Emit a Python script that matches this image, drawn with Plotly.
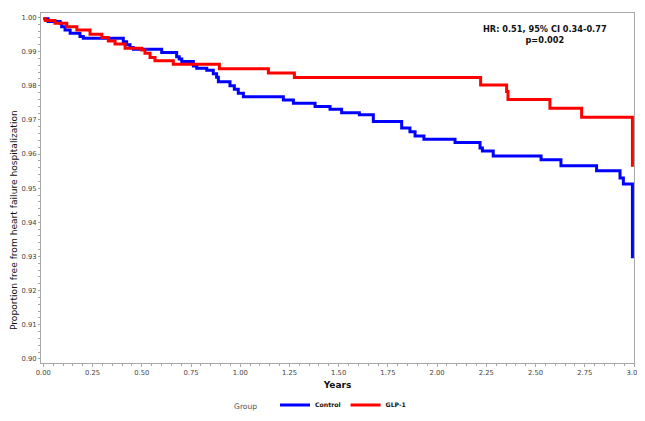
import plotly.graph_objects as go

# Control (blue) Kaplan-Meier steps
control_t = [0.0, 0.024, 0.085, 0.093, 0.110, 0.136, 0.186, 0.203, 0.406, 0.423, 0.440, 0.457,
             0.601, 0.677, 0.690, 0.703, 0.762, 0.779, 0.830, 0.863, 0.880, 0.889, 0.948, 0.970,
             0.990, 1.016, 1.219, 1.270, 1.380, 1.456, 1.515, 1.605, 1.676, 1.820, 1.862, 1.888,
             1.933, 2.091, 2.218, 2.230, 2.285, 2.528, 2.629, 2.810, 2.929, 2.946, 2.992]
control_s = [0.9996, 0.9988, 0.9983, 0.9973, 0.9963, 0.9954, 0.9944, 0.9939, 0.9929, 0.9920, 0.9912, 0.9907,
             0.9897, 0.9885, 0.9878, 0.9871, 0.9858, 0.9851, 0.9845, 0.9835, 0.9825, 0.9812, 0.9800, 0.9790,
             0.9778, 0.9768, 0.9758, 0.9749, 0.9739, 0.9731, 0.9721, 0.9715, 0.9695, 0.9676, 0.9665, 0.9653,
             0.9643, 0.9634, 0.9618, 0.9609, 0.9594, 0.9583, 0.9566, 0.9551, 0.9530, 0.9512, 0.9295]

# GLP-1 (red) Kaplan-Meier steps
glp_t = [0.0, 0.010, 0.059, 0.119, 0.170, 0.237, 0.297, 0.330, 0.364, 0.415, 0.500, 0.516, 0.542,
         0.567, 0.660, 0.894, 1.143, 1.275, 2.221, 2.353, 2.360, 2.573, 2.734, 2.992]
glp_s = [0.9996, 0.9991, 0.9983, 0.9973, 0.9963, 0.9951, 0.9941, 0.9931, 0.9922, 0.9910, 0.9905, 0.9895, 0.9883,
         0.9873, 0.9863, 0.9850, 0.9837, 0.9824, 0.9802, 0.9783, 0.9760, 0.9734, 0.9708, 0.9563]

x_ticks = [0.0, 0.25, 0.5, 0.75, 1.0, 1.25, 1.5, 1.75, 2.0, 2.25, 2.5, 2.75, 3.0]
y_ticks = [0.90, 0.91, 0.92, 0.93, 0.94, 0.95, 0.96, 0.97, 0.98, 0.99, 1.00]

FONT = "DejaVu Sans"
AXC = "#a8a8a8"

# page body adds an 8px offset; plot area wanted at screen x 41..634, y 13..363
OFF = 8
W, H = 637, 413
PL, PT, PW, PH = 41, 13, 593, 350


def px(sx):
    return (sx - PL) / PW


def py(sy):
    return (PT + PH - sy) / PH


def cy(sy):
    return (H - (sy - OFF)) / H


fig = go.Figure()
fig.add_trace(go.Scatter(x=control_t, y=control_s, mode="lines", name="<b>Control</b>",
                         line=dict(color="#0000FF", width=3, shape="hv")))
fig.add_trace(go.Scatter(x=glp_t, y=glp_s, mode="lines", name="<b>GLP-1</b>",
                         line=dict(color="#FF0000", width=3, shape="hv")))

fig.update_layout(
    width=W, height=H,
    margin=dict(l=PL - OFF, r=W - (PL - OFF) - PW, t=PT - OFF, b=H - (PT - OFF) - PH),
    paper_bgcolor="white", plot_bgcolor="white",
    font=dict(family=FONT, color="#333333"),
    showlegend=True,
    legend=dict(orientation="h", xref="paper", yref="container",
                x=px(275), y=cy(405), xanchor="left", yanchor="middle",
                font=dict(size=6.2, color="#111111", family=FONT),
                itemwidth=30, tracegroupgap=0, bgcolor="rgba(0,0,0,0)"),
    xaxis=dict(range=[-0.012, 3.0], tickvals=x_ticks, automargin=False,
               ticktext=[f"{v:.2f}" for v in x_ticks],
               showgrid=False, zeroline=False,
               showline=True, linecolor=AXC, linewidth=1, mirror=True,
               ticks="outside", ticklen=3, tickcolor=AXC,
               minor=dict(dtick=0.05, ticks="outside", ticklen=2, tickcolor=AXC),
               tickfont=dict(size=6.8, color="#444444", family=FONT),
               title=dict(text="<b>Years</b>", font=dict(size=9, color="#111111", family=FONT), standoff=6)),
    yaxis=dict(range=[0.8988, 1.0013], tickvals=y_ticks, automargin=False,
               ticktext=[f"{v:.2f}" for v in y_ticks],
               showgrid=False, zeroline=False,
               showline=True, linecolor=AXC, linewidth=1, mirror=True,
               ticks="outside", ticklen=2, tickcolor=AXC,
               minor=dict(dtick=0.002, ticks="outside", ticklen=2, tickcolor=AXC),
               tickfont=dict(size=6.8, color="#444444", family=FONT)),
    annotations=[
        dict(text="Proportion free from heart failure hospitalization",
             xref="paper", yref="paper", x=px(14), y=py(220), textangle=-90,
             xanchor="center", yanchor="middle", showarrow=False,
             font=dict(size=9.1, color="#111111", family=FONT)),
        dict(text="<b>HR: 0.51, 95% CI 0.34-0.77</b><br><b>p=0.002</b>",
             xref="paper", yref="paper", x=px(545), y=py(35),
             xanchor="center", yanchor="middle", showarrow=False, align="center",
             font=dict(size=8.2, color="#111111", family=FONT)),
        dict(text="Group", xref="paper", yref="paper", x=px(245), y=py(406),
             xanchor="center", yanchor="middle", showarrow=False,
             font=dict(size=7.6, color="#555555", family=FONT)),
    ],
)

fig.write_html("out.html")
